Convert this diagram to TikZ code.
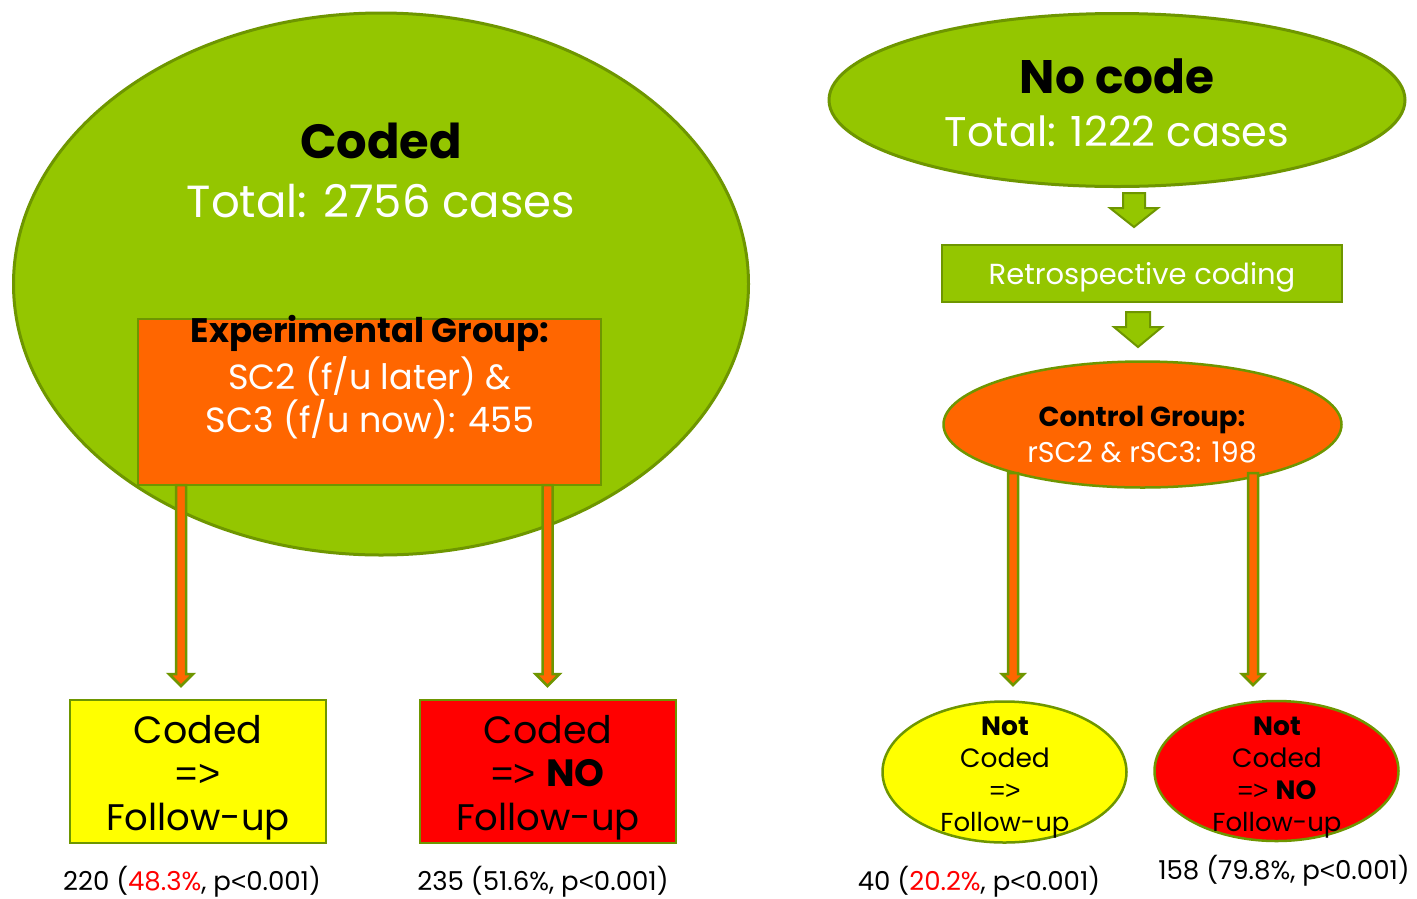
\documentclass[tikz,border=0pt]{standalone}
\usepackage{fontspec}
\setmainfont{Poppins}
\newfontfamily\symf{Liberation Sans}
\usetikzlibrary{shapes.geometric,calc}
\definecolor{gfill}{RGB}{148,198,0}
\definecolor{gline}{RGB}{110,150,0}
\definecolor{orng}{RGB}{255,102,0}
\definecolor{yel}{RGB}{255,255,0}
\definecolor{rd}{RGB}{255,0,0}
\newcommand\fsz[1]{\fontsize{#1}{#1}\selectfont}
\newcommand\impl{{\symf =>}}
\newcommand\lt{{\symf <}}
% block arrow: #1 start, #2 tip, #3 half shaft, #4 half head, #5 head length, #6 fill, #7 line width
\newcommand\blockarr[7]{%
  \filldraw[fill=#6,draw=gline,line width=#7,line join=miter]
    let \p1=(#1),\p2=(#2) in
    (\x1-#3,\y1) -- (\x1-#3,\y2+#5) -- (\x1-#4,\y2+#5) -- (\x1,\y2)
    -- (\x1+#4,\y2+#5) -- (\x1+#3,\y2+#5) -- (\x1+#3,\y1) -- cycle;}
\begin{document}
\begin{tikzpicture}[x=1pt,y=-1pt,
  txt/.style={anchor=base,inner sep=0pt,outer sep=0pt},
  shp/.style={draw=gline,inner sep=0pt,outer sep=0pt},
  ell/.style={shp,ellipse},
  box/.style={shp,rectangle}]
\useasboundingbox (0,0) rectangle (1417,898);
\fill[white] (0,0) rectangle (1417,898);

% ---------- left part ----------
\node[ell,fill=gfill,line width=3pt,minimum width=735pt,minimum height=542pt] (coded) at (381,284) {};
\node[txt,font=\fsz{48}\bfseries] (codedA) at (381,158) {Coded};
\node[txt,white,font=\fsz{45}] (codedB) at (381,217) {Total: 2756 cases};

\node[box,fill=orng,line width=2.5pt,minimum width=463pt,minimum height=166pt] (exp) at (369.5,402) {};
\node[txt,font=\fsz{34}\bfseries] (expA) at (370,342) {Experimental Group:};
\node[txt,white,font=\fsz{35}] (expB) at (370,389) {SC2 (f/u later) \&};
\node[txt,white,font=\fsz{35}] (expC) at (370,432) {SC3 (f/u now): 455};

\node[box,fill=yel,line width=2.5pt,minimum width=256pt,minimum height=143pt] (yb) at (198,771.5) {};
\node[txt,font=\fsz{38}] (ybA) at (198,743) {Coded};
\node[txt,font=\fsz{38}] (ybB) at (198,786) {\impl};
\node[txt,font=\fsz{37}] (ybC) at (198,830) {Follow-up};

\node[box,fill=rd,line width=2.5pt,minimum width=256pt,minimum height=143pt] (rb) at (548,771.5) {};
\node[txt,font=\fsz{38}] (rbA) at (548,743) {Coded};
\node[txt,font=\fsz{38}] (rbB) at (548,786) {\impl{} \textbf{NO}};
\node[txt,font=\fsz{37}] (rbC) at (548,830) {Follow-up};

\coordinate (a1s) at (181,485);
\coordinate (a1e) at (181,686);
\coordinate (a2s) at (547.5,485);
\coordinate (a2e) at (547.5,686);
\blockarr{a1s}{a1e}{5pt}{12pt}{12pt}{orng}{2.5pt}
\blockarr{a2s}{a2e}{5pt}{12pt}{12pt}{orng}{2.5pt}

\node[txt,font=\fsz{26}] (capA) at (192,890) {220 (\textcolor{rd}{48.3\%}, p\lt0.001)};
\node[txt,font=\fsz{26}] (capB) at (543,890) {235 (51.6\%, p\lt0.001)};

% ---------- right part ----------
\node[ell,fill=gfill,line width=3pt,minimum width=576pt,minimum height=173pt] (nocode) at (1117,100) {};
\node[txt,font=\fsz{47}\bfseries] (nocodeA) at (1117,93) {No code};
\node[txt,white,font=\fsz{41.5}] (nocodeB) at (1117,146) {Total: 1222 cases};

\coordinate (g1s) at (1134,193);
\coordinate (g1e) at (1134,227);
\blockarr{g1s}{g1e}{11pt}{24pt}{19pt}{gfill}{2pt}

\node[box,fill=gfill,line width=2.5pt,minimum width=400pt,minimum height=57pt] (retro) at (1142,273.5) {};
\node[txt,white,font=\fsz{29}] (retroA) at (1142,284) {Retrospective coding};

\coordinate (g2s) at (1138,312);
\coordinate (g2e) at (1138,347);
\blockarr{g2s}{g2e}{12pt}{24pt}{20pt}{gfill}{2pt}

\node[ell,fill=orng,line width=2.5pt,minimum width=398pt,minimum height=126pt] (ctrl) at (1142.5,424.5) {};
\node[txt,font=\fsz{27.5}\bfseries] (ctrlA) at (1142,426) {Control Group:};
\node[txt,white,font=\fsz{28.5}] (ctrlB) at (1142,462) {rSC2 \& rSC3: 198};

\coordinate (a3s) at (1013,473);
\coordinate (a3e) at (1013,685);
\coordinate (a4s) at (1253,473);
\coordinate (a4e) at (1253,685);
\blockarr{a3s}{a3e}{5pt}{11pt}{11pt}{orng}{2.5pt}
\blockarr{a4s}{a4e}{5pt}{11pt}{11pt}{orng}{2.5pt}

\node[ell,fill=yel,line width=2.5pt,minimum width=244pt,minimum height=141pt] (ye) at (1004.5,772) {};
\node[txt,font=\fsz{26.5}\bfseries] (yeA) at (1005,735) {Not};
\node[txt,font=\fsz{26.5}] (yeB) at (1005,767) {Coded};
\node[txt,font=\fsz{26.5}] (yeC) at (1005,799) {\impl};
\node[txt,font=\fsz{26}] (yeD) at (1005,831) {Follow-up};

\node[ell,fill=rd,line width=2.5pt,minimum width=244pt,minimum height=140pt] (re) at (1276.5,771) {};
\node[txt,font=\fsz{26.5}\bfseries] (reA) at (1277,735) {Not};
\node[txt,font=\fsz{26.5}] (reB) at (1277,767) {Coded};
\node[txt,font=\fsz{26.5}] (reC) at (1277,799) {\impl{} \textbf{NO}};
\node[txt,font=\fsz{26}] (reD) at (1277,831) {Follow-up};

\node[txt,font=\fsz{26}] (capC) at (979,890) {40 (\textcolor{rd}{20.2\%}, p\lt0.001)};
\node[txt,font=\fsz{26}] (capD) at (1284,879) {158 (79.8\%, p\lt0.001)};
\end{tikzpicture}
\end{document}
